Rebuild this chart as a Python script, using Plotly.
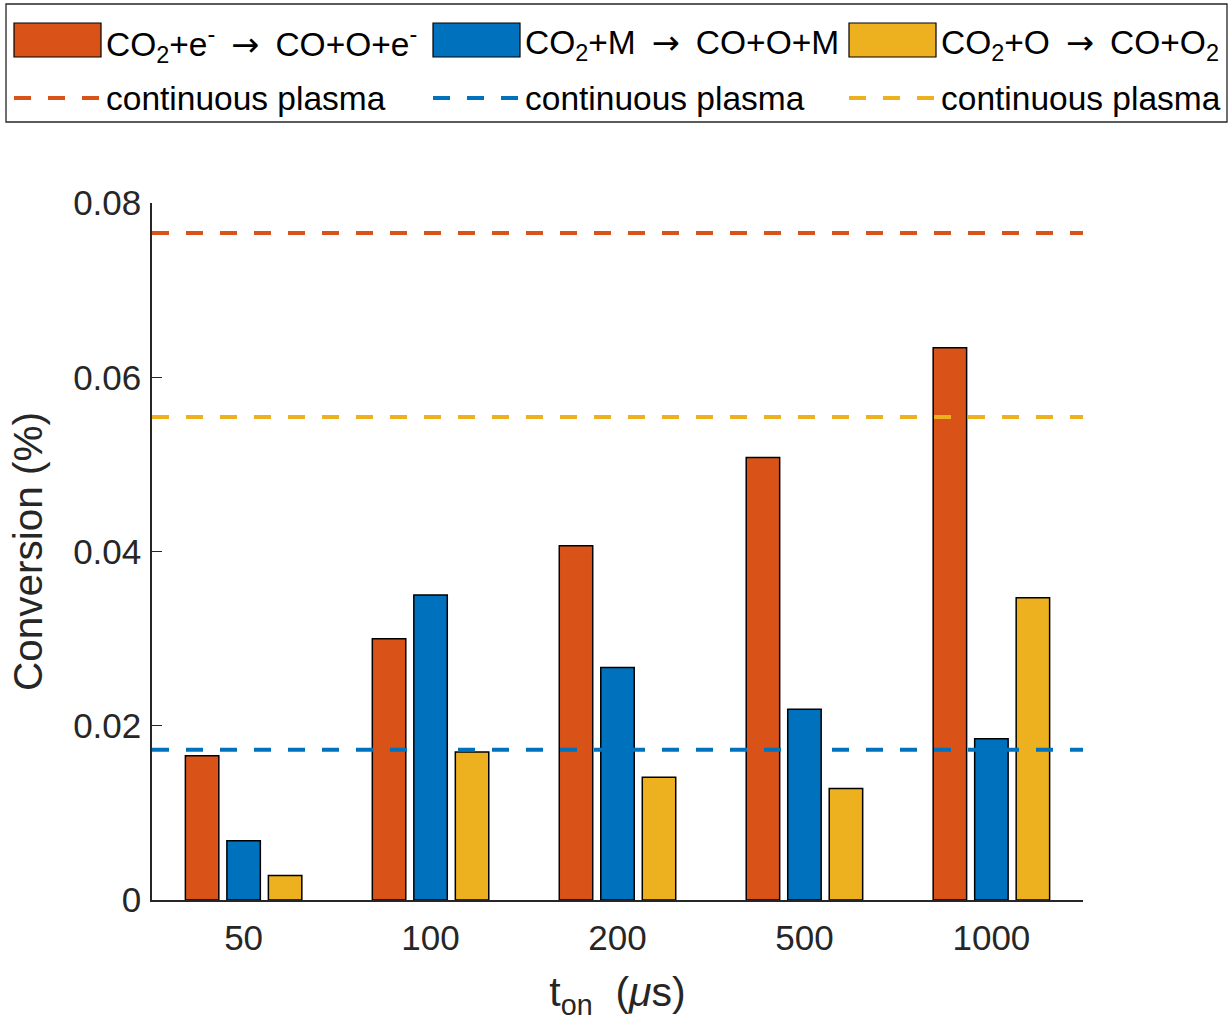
import plotly.graph_objects as go

# ---- data ----
t_on_labels = ["50", "100", "200", "500", "1000"]
conv_electron = [0.01655, 0.0300, 0.04065, 0.0508, 0.0634]   # CO2+e- -> CO+O+e-
conv_thirdbody = [0.0068, 0.0350, 0.0267, 0.0219, 0.01851]   # CO2+M -> CO+O+M
conv_oxygen = [0.0028, 0.0170, 0.0141, 0.0128, 0.03469]      # CO2+O -> CO+O2

# continuous-plasma reference levels
cont_electron = 0.07657
cont_thirdbody = 0.01725
cont_oxygen = 0.05545

y_ticks = [0, 0.02, 0.04, 0.06, 0.08]
y_tick_text = ["0", "0.02", "0.04", "0.06", "0.08"]

ARROW = "\u2009<span style='font-family:DejaVu Sans'>\u2192</span>\u2009"
series_names = [
    f"CO<sub>2</sub>+e<sup>-</sup> {ARROW} CO+O+e<sup>-</sup>",
    f"CO<sub>2</sub>+M {ARROW} CO+O+M",
    f"CO<sub>2</sub>+O {ARROW} CO+O<sub>2</sub>",
]
line_name = "continuous plasma"

# ---- style ----
RED = "#D95319"
BLUE = "#0072BD"
YELLOW = "#EDB120"
INK = "#262626"
FONT = "Liberation Sans, Arial, sans-serif"

W, H = 1231, 1025
ML, MR, MT, MB = 152, 148, 203, 125
PW, PH = W - ML - MR, H - MT - MB


def px_x(px):
    return (px - ML) / PW


def px_y(py):
    return (H - MB - py) / PH


fig = go.Figure()

for vals, col, name in zip(
    [conv_electron, conv_thirdbody, conv_oxygen],
    [RED, BLUE, YELLOW],
    series_names,
):
    fig.add_trace(
        go.Bar(
            x=t_on_labels,
            y=vals,
            name=name,
            marker=dict(color=col, line=dict(color="black", width=1.5)),
            showlegend=False,
        )
    )

# dashed horizontal levels across the whole axis
for level, col in zip([cont_electron, cont_oxygen, cont_thirdbody], [RED, YELLOW, BLUE]):
    fig.add_shape(
        type="line",
        xref="x domain", x0=0, x1=1,
        yref="y", y0=level, y1=level,
        line=dict(color=col, width=4, dash="17px,17px"),
        layer="above",
    )

# ---- legend box (two rows x three columns) ----
fig.add_shape(
    type="rect", xref="paper", yref="paper",
    x0=px_x(6), x1=px_x(1227), y0=px_y(122), y1=px_y(4),
    line=dict(color=INK, width=1.3), fillcolor="white", layer="above",
)
col_x = [14, 433, 849]
for cx, col, name in zip(col_x, [RED, BLUE, YELLOW], series_names):
    fig.add_shape(
        type="rect", xref="paper", yref="paper",
        x0=px_x(cx), x1=px_x(cx + 87), y0=px_y(57), y1=px_y(23),
        line=dict(color="black", width=1.2), fillcolor=col, layer="above",
    )
    fig.add_annotation(
        xref="paper", yref="paper", x=px_x(cx + 90), y=px_y(44),
        text=name, showarrow=False, xanchor="left", yanchor="middle",
        font=dict(family=FONT, size=33.5, color="black"),
    )
    fig.add_shape(
        type="line", xref="paper", yref="paper",
        x0=px_x(cx), x1=px_x(cx + 87), y0=px_y(98), y1=px_y(98),
        line=dict(color=col, width=4, dash="17px,17px"), layer="above",
    )
    fig.add_annotation(
        xref="paper", yref="paper", x=px_x(cx + 90), y=px_y(98),
        text=line_name, showarrow=False, xanchor="left", yanchor="middle",
        font=dict(family=FONT, size=33.5, color="black"),
    )

fig.update_layout(
    width=W, height=H,
    margin=dict(l=ML, r=MR, t=MT, b=MB, pad=0),
    paper_bgcolor="white", plot_bgcolor="white",
    barmode="group", bargap=0.334, bargroupgap=0.194,
    font=dict(family=FONT, size=35, color=INK),
    showlegend=False,
    xaxis=dict(
        type="category",
        range=[-0.49, 4.49],
        showline=True, linecolor=INK, linewidth=1.5,
        ticks="", showgrid=False, zeroline=False,
        ticklabelstandoff=6,
        tickfont=dict(size=35, color=INK),
        title=dict(text="t<sub>on</sub>  (<i>\u03bc</i>s)", font=dict(size=41, color=INK), standoff=22),
    ),
    yaxis=dict(
        range=[0, 0.08],
        tickvals=y_ticks, ticktext=y_tick_text,
        showline=True, linecolor=INK, linewidth=1.5,
        ticks="inside", ticklen=10, tickwidth=1.2, tickcolor=INK,
        showgrid=False, zeroline=False,
        ticklabelstandoff=2,
        tickfont=dict(size=35, color=INK),
        title=dict(text="Conversion (%)", font=dict(size=40.5, color=INK), standoff=18),
    ),
)

fig.write_html("out.html")
